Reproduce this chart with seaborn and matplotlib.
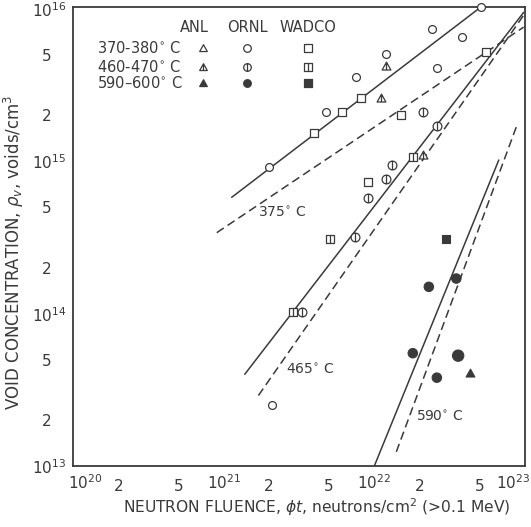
import matplotlib
matplotlib.use("Agg")
import matplotlib.pyplot as plt
from matplotlib.path import Path
from matplotlib.transforms import ScaledTranslation
import pandas as pd
import seaborn as sns

# ---------------------------------------------------------------------------
# Void concentration (voids/cm^3) versus neutron fluence (n/cm^2, E > 0.1 MeV)
# ---------------------------------------------------------------------------
# 370-380 C
ornl_370_fluence = [2.0e21, 4.8e21, 7.5e21, 1.2e22, 2.4e22, 3.8e22, 2.6e22, 5.1e22, 2.1e21]
ornl_370_voids = [9.2e14, 2.1e15, 3.6e15, 5.1e15, 7.4e15, 6.5e15, 4.1e15, 1.03e16, 2.5e13]
wadco_370_fluence = [4.0e21, 6.1e21, 8.1e21, 1.5e22, 9.1e21, 5.5e22]
wadco_370_voids = [1.54e15, 2.1e15, 2.6e15, 2.0e15, 7.3e14, 5.2e15]

# 460-470 C
anl_465_fluence = [1.1e22, 1.2e22, 2.1e22]
anl_465_voids = [2.6e15, 4.2e15, 1.1e15]
ornl_465_fluence = [2.1e22, 2.6e22, 1.3e22, 1.2e22, 9.1e21, 7.4e21, 3.3e21]
ornl_465_voids = [2.1e15, 1.7e15, 9.5e14, 7.7e14, 5.7e14, 3.2e14, 1.03e14]
wadco_465_fluence = [1.8e22, 5.1e21, 2.9e21]
wadco_465_voids = [1.07e15, 3.1e14, 1.03e14]

# 590-600 C
anl_595_fluence = [4.3e22]
anl_595_voids = [4.1e13]
ornl_595_fluence = [2.3e22, 3.5e22, 1.8e22, 3.6e22, 2.6e22]
ornl_595_voids = [1.5e14, 1.7e14, 5.5e13, 5.3e13, 3.8e13]
ornl_595_sizes = [46, 46, 46, 66, 46]
wadco_595_fluence = [3.0e22]
wadco_595_voids = [3.1e14]

# Fitted trends (solid) and calculated trends (dashed), end points
fit_375_fluence = [1.13e21, 5.1e22]
fit_375_voids = [5.8e14, 1.03e16]
calc_375_fluence = [9.0e20, 9.8e22]
calc_375_voids = [3.4e14, 7.6e15]
fit_465_fluence = [1.38e21, 9.8e22]
fit_465_voids = [4.0e13, 9.5e15]
calc_465_fluence = [1.7e21, 9.8e22]
calc_465_voids = [2.9e13, 9.1e15]
fit_590_fluence = [1.0e22, 6.7e22]
fit_590_voids = [1.0e13, 1.02e15]
calc_590_fluence = [1.4e22, 8.85e22]
calc_590_voids = [1.24e13, 1.73e15]

# Temperature annotations for the trend lines
trend_labels = ["375$^{\\circ}$ C", "465$^{\\circ}$ C", "590$^{\\circ}$ C"]
trend_label_fluence = [1.68e21, 2.6e21, 1.9e22]
trend_label_voids = [4.6e14, 4.3e13, 2.1e13]

# Axis tick values and labels
x_decades = [20, 21, 22, 23]
y_decades = [13, 14, 15, 16]
labelled_mantissas = [1, 2, 5]

INK = "#3a3a3a"

sns.set_style("white")
plt.rcParams["font.family"] = ["DejaVu Sans"]
plt.rcParams["mathtext.fontset"] = "dejavusans"


def barred(base):
    """Open marker outline with a vertical bar through its centre."""
    bar = Path([(0, -1), (0, 1)], [Path.MOVETO, Path.LINETO])
    if base == "circle":
        outline = Path.unit_circle()
    elif base == "square":
        outline = Path([(-1, -1), (1, -1), (1, 1), (-1, 1), (-1, -1)],
                       [Path.MOVETO, Path.LINETO, Path.LINETO, Path.LINETO, Path.CLOSEPOLY])
    else:
        outline = Path([(0, 1), (-1, -0.8), (1, -0.8), (0, 1)],
                       [Path.MOVETO, Path.LINETO, Path.LINETO, Path.CLOSEPOLY])
        bar = Path([(0, -0.8), (0, 0.6)], [Path.MOVETO, Path.LINETO])
    return Path.make_compound_path(outline, bar)


TRI = Path([(0, 1), (-1, -0.8), (1, -0.8), (0, 1)],
           [Path.MOVETO, Path.LINETO, Path.LINETO, Path.CLOSEPOLY])

MARKERS = {
    ("ANL", "370"): (TRI, False), ("ORNL", "370"): ("o", False), ("WADCO", "370"): ("s", False),
    ("ANL", "465"): (barred("tri"), False), ("ORNL", "465"): (barred("circle"), False),
    ("WADCO", "465"): (barred("square"), False),
    ("ANL", "595"): (TRI, True), ("ORNL", "595"): ("o", True), ("WADCO", "595"): ("s", True),
}
SIZES = {"o": 32, "s": 36}

fig = plt.figure(figsize=(5.31, 5.27), dpi=100)
ax = fig.add_axes([73 / 531, 1 - 466 / 527, 452 / 531, 459 / 527])

# Trend lines
lines = [
    (fit_375_fluence, fit_375_voids, "-"), (calc_375_fluence, calc_375_voids, "--"),
    (fit_465_fluence, fit_465_voids, "-"), (calc_465_fluence, calc_465_voids, "--"),
    (fit_590_fluence, fit_590_voids, "-"), (calc_590_fluence, calc_590_voids, "--"),
]
for xs, ys, ls in lines:
    style = "-" if ls == "-" else (0, (5.5, 3.0))
    sns.lineplot(x=xs, y=ys, ax=ax, color=INK, lw=1.1, linestyle=style,
                 estimator=None, sort=False)


def scatter(xs, ys, lab, temp, sizes=None):
    marker, filled = MARKERS[(lab, temp)]
    s = SIZES.get(marker, 40) if isinstance(marker, str) else 40
    if sizes is not None:
        s = sizes
    df = pd.DataFrame({"fluence": xs, "voids": ys})
    if filled:
        sns.scatterplot(data=df, x="fluence", y="voids", ax=ax, marker=marker, s=s,
                        color=INK, edgecolor=INK, linewidth=0.8, zorder=3, clip_on=False)
    else:
        sns.scatterplot(data=df, x="fluence", y="voids", ax=ax, marker=marker, s=s,
                        facecolor="white", edgecolor=INK, linewidth=0.9, zorder=3,
                        clip_on=False)


scatter(ornl_370_fluence, ornl_370_voids, "ORNL", "370")
scatter(wadco_370_fluence, wadco_370_voids, "WADCO", "370")
scatter(anl_465_fluence, anl_465_voids, "ANL", "465")
scatter(ornl_465_fluence, ornl_465_voids, "ORNL", "465")
scatter(wadco_465_fluence, wadco_465_voids, "WADCO", "465")
scatter(anl_595_fluence, anl_595_voids, "ANL", "595")
scatter(ornl_595_fluence, ornl_595_voids, "ORNL", "595", sizes=ornl_595_sizes)
scatter(wadco_595_fluence, wadco_595_voids, "WADCO", "595")

for text, xv, yv in zip(trend_labels, trend_label_fluence, trend_label_voids):
    ax.text(xv, yv, text, fontsize=10, color=INK, ha="left", va="center")

# Scales and ticks
ax.set_xscale("log")
ax.set_yscale("log")
ax.set_xlim(1e20, 1e23)
ax.set_ylim(1e13, 1.03e16)


def tick_set(decades):
    vals, labels, minors = [], [], []
    for e in decades[:-1]:
        for m in range(1, 10):
            if m in labelled_mantissas:
                vals.append(m * 10.0 ** e)
                labels.append(f"$10^{{{e}}}$" if m == 1 else str(m))
            else:
                minors.append(m * 10.0 ** e)
    vals.append(10.0 ** decades[-1])
    labels.append(f"$10^{{{decades[-1]}}}$")
    return vals, labels, minors


xv, xl, xm = tick_set(x_decades)
yv, yl, ym = tick_set(y_decades)
ax.set_xticks(xv, xl)
ax.set_xticks(xm, minor=True)
ax.set_yticks(yv, yl)
ax.set_yticks(ym, minor=True)
ax.tick_params(which="both", direction="in", color=INK, width=1.0,
               labelcolor=INK, labelsize=11, top=False, right=False)
ax.tick_params(which="major", length=10)
ax.tick_params(which="minor", length=6)
ax.tick_params(axis="x", which="major", pad=5)
ax.tick_params(axis="y", which="major", pad=5)

for sp in ax.spines.values():
    sp.set_color(INK)
    sp.set_linewidth(1.3)

ax.set_xlabel("NEUTRON FLUENCE, $\\phi t$, neutrons/cm$^{2}$ (>0.1 MeV)",
              fontsize=11.2, color=INK)
ax.xaxis.set_label_coords(0.54, -0.065)
ax.set_ylabel("VOID CONCENTRATION, $\\rho_v$, voids/cm$^{3}$", fontsize=12, color=INK)
ax.yaxis.set_label_coords(-0.105, 0.466)

# Legend block: header, row labels and symbols
leg_rows = ["370-380$^{\\circ}$ C", "460-470$^{\\circ}$ C", "590\u2013600$^{\\circ}$ C"]
leg_temps = ["370", "465", "595"]
leg_labs = ["ANL", "ORNL", "WADCO"]
row_y = [0.911, 0.870, 0.834]
col_x = [0.288, 0.385, 0.520]
for lab, cx in zip(leg_labs, col_x):
    ax.text(cx - (0.02 if lab == "ANL" else 0.0), 0.955, lab, transform=ax.transAxes,
            fontsize=10.5, color=INK, ha="center", va="center")
for row, ry, temp in zip(leg_rows, row_y, leg_temps):
    ax.text(0.052, ry, row, transform=ax.transAxes, fontsize=10.5, color=INK,
            ha="left", va="center")
    for lab, cx in zip(leg_labs, col_x):
        marker, filled = MARKERS[(lab, temp)]
        ax.scatter([cx], [ry], transform=ax.transAxes, marker=marker, s=30,
                   facecolor=INK if filled else "white", edgecolor=INK,
                   linewidth=0.9, zorder=4, clip_on=False)

# Nudge plain-digit tick labels and the edge decade labels
fig.canvas.draw()
for lbl in ax.get_yticklabels():
    if lbl.get_text() in ("2", "5"):
        lbl.set_transform(lbl.get_transform() + ScaledTranslation(-0.15, 0, fig.dpi_scale_trans))
for lbl in ax.get_xticklabels():
    t = lbl.get_text()
    if t in ("2", "5"):
        lbl.set_transform(lbl.get_transform() + ScaledTranslation(0, -0.06, fig.dpi_scale_trans))
    elif "20" in t:
        lbl.set_transform(lbl.get_transform() + ScaledTranslation(0.12, 0, fig.dpi_scale_trans))
    elif "23" in t:
        lbl.set_transform(lbl.get_transform() + ScaledTranslation(-0.12, 0, fig.dpi_scale_trans))

fig.savefig("out.png", dpi=100)
